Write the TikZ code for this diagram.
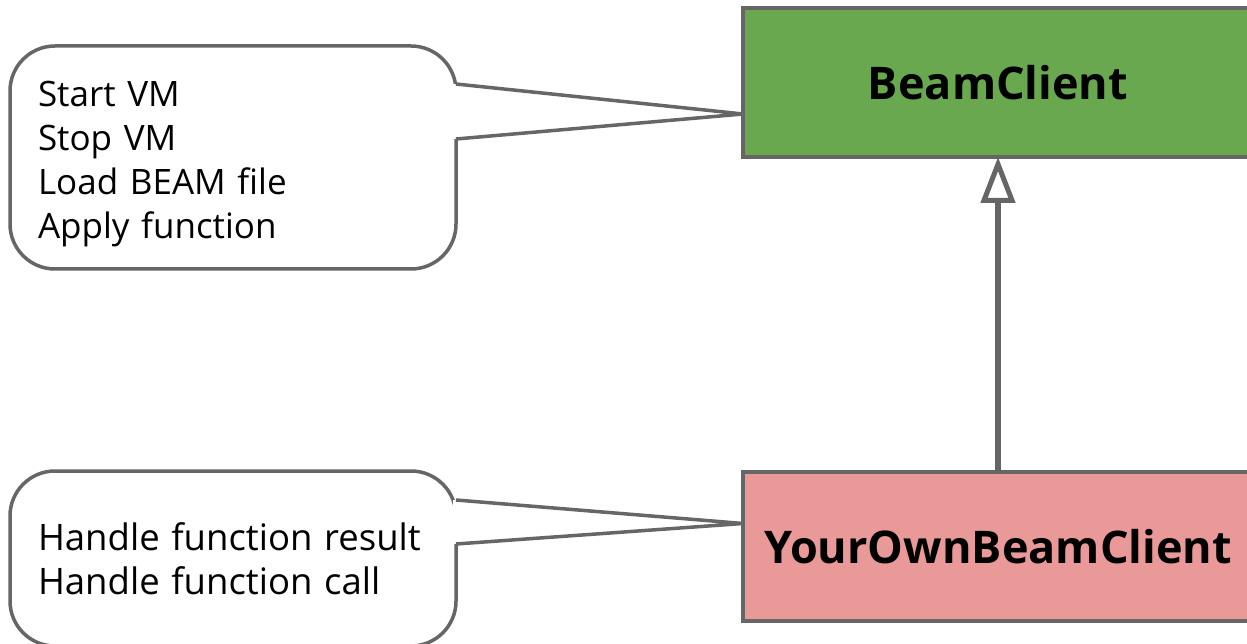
\documentclass[tikz,border=0pt]{standalone}
\usepackage{fontspec}
\setmainfont{Open Sans}
\usetikzlibrary{positioning,arrows.meta}
\definecolor{edgegray}{HTML}{666666}
\definecolor{beamgreen}{HTML}{6AA84F}
\definecolor{ownred}{HTML}{EA9999}
\begin{document}
\begin{tikzpicture}[x=1pt, y=-1pt, line width=3.5pt,
  note/.style={draw=edgegray, fill=white, rounded corners=45pt, outer sep=0pt, align=left, text width=390pt, inner xsep=28pt, font=\fontsize{35}{44}\selectfont},
  cls/.style={draw=edgegray, outer sep=0pt, minimum width=510pt, minimum height=149pt, font=\bfseries\fontsize{45}{50}\selectfont},
  inherit/.style={-{Triangle[open, fill=white, length=46pt, width=34pt, line width=5pt]}, line width=6pt, draw=edgegray}]
  \useasboundingbox (0,0) rectangle (1247,644);
  \clip (0,0) rectangle (1247,644);
  \fill[white] (0,0) rectangle (1247,644);
  % the two classes
  \node[cls, fill=beamgreen, anchor=north west] (base) at (743,8) {BeamClient};
  \node[cls, fill=ownred, anchor=north west] (own) at (743,472) {YourOwnBeamClient};
  \draw[inherit] (own.north) -- (base.south);
  % callouts
  \node[note, minimum height=223pt, anchor=north west] (ops) at (10,46) {\rule{0pt}{39pt}Start VM\\Stop VM\\Load BEAM file\\Apply function};
  \node[note, minimum height=175pt, anchor=north west] (hooks) at (10,471) {\fontsize{36.5}{44}\selectfont Handle function result\\Handle function call};
  \coordinate (opsA) at ([yshift=-38pt]ops.north east);
  \coordinate (opsB) at ([yshift=-93pt]ops.north east);
  \coordinate (opsTip) at ([yshift=-31.5pt]base.west);
  \fill[white] ([xshift=-3pt]opsA) -- (opsTip) -- ([xshift=-3pt]opsB) -- cycle;
  \draw[edgegray] (opsA) -- (opsTip) -- (opsB);
  \coordinate (hooksA) at ([yshift=-29pt]hooks.north east);
  \coordinate (hooksB) at ([yshift=-73pt]hooks.north east);
  \coordinate (hooksTip) at ([yshift=23pt]own.west);
  \fill[white] ([xshift=-3pt]hooksA) -- (hooksTip) -- ([xshift=-3pt]hooksB) -- cycle;
  \draw[edgegray] (hooksA) -- (hooksTip) -- (hooksB);
\end{tikzpicture}
\end{document}
